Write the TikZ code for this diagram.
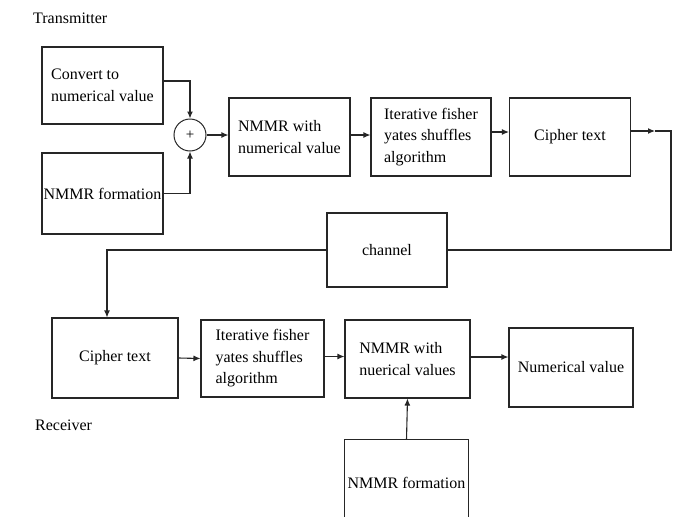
\documentclass[tikz,border=0pt]{standalone}
\usepackage{fontspec}
\setmainfont{Liberation Serif}
\usetikzlibrary{arrows.meta}
\begin{document}
\begin{tikzpicture}[x=1pt,y=-1pt,
  box/.style={draw=black!85, line width=1.1pt, rectangle, inner sep=1pt, align=left,
    font=\fontsize{16}{21.5}\selectfont},
  lbl/.style={font=\fontsize{16}{20}\selectfont, inner sep=0pt, anchor=west},
  conn/.style={draw=black!85, line width=1.1pt},
  arr/.style={conn, -{Latex[length=7pt,width=6pt]}}]
\useasboundingbox (0,0) rectangle (678,517);
% labels
\node[lbl] (tx) at (33,18) {Transmitter};
\node[lbl] (rx) at (35,425) {Receiver};
% transmitter row
\node[box, minimum width=121pt, minimum height=77pt] (A) at (102.5,85.5) {Convert to\\numerical value};
\node[box, minimum width=121pt, minimum height=81pt] (B) at (102.5,193.5) {NMMR formation};
\node[draw=black!85, line width=1pt, circle, minimum size=32pt, inner sep=0pt, font=\fontsize{15}{15}\selectfont] (P) at (190,135) {+};
\node[box, minimum width=121pt, minimum height=78pt] (N1) at (289.5,137) {NMMR with\\numerical value};
\node[box, minimum width=120pt, minimum height=78pt] (I1) at (431,137) {Iterative fisher\\yates shuffles\\algorithm};
\node[box, minimum width=121pt, minimum height=78pt] (C1) at (570,137) {Cipher text};
% channel
\node[box, minimum width=120pt, minimum height=74pt] (CH) at (387,250) {channel};
% receiver row
\node[box, minimum width=126pt, minimum height=80pt] (C2) at (115,358) {Cipher text};
\node[box, minimum width=123pt, minimum height=77pt] (I2) at (262.5,358.5) {Iterative fisher\\yates shuffles\\algorithm};
\node[box, minimum width=125pt, minimum height=78pt] (N2) at (407.5,359) {NMMR with\\nuerical values};
\node[box, minimum width=124pt, minimum height=79pt] (V) at (571,367.5) {Numerical value};
\node[minimum width=123pt, minimum height=77pt, inner sep=0pt] (F2) at (406.5,478.5) {};
\draw[conn] (F2.south west) -- (F2.north west) -- (F2.north east) -- (F2.south east);
\node[font=\fontsize{16}{20}\selectfont, inner sep=0pt] (F2t) at (406.5,483) {NMMR formation};
% coordinates
\coordinate (k1) at (655,131);
\coordinate (k2) at (671,131);
% transmitter connectors
\draw[arr] ([yshift=4.5pt]A.east) -| (P.north);
\draw[arr] (B.east) -| (P.south);
\draw[arr] (P.east) -- (P.east -| N1.west);
\draw[arr] ([yshift=2pt]N1.east) -- ([yshift=2pt]I1.west);
\draw[arr] ([yshift=5pt]I1.east) -- ([yshift=5pt]C1.west);
\draw[arr] ([yshift=6pt]C1.east) -- (k1);
\draw[conn] (k1) -- (k2) |- (CH.east);
\draw[arr] (CH.west) -| ([xshift=-8pt]C2.north);
% receiver connectors
\draw[arr] (C2.east) -- (I2.west);
\draw[arr] ([yshift=2pt]I2.east) -- ([yshift=2pt]I2.east -| N2.west);
\draw[arr] ([yshift=2pt]N2.east) -- ([yshift=2pt]N2.east -| V.west);
\draw[arr] (F2.north) -- (N2.south);
\end{tikzpicture}
\end{document}
